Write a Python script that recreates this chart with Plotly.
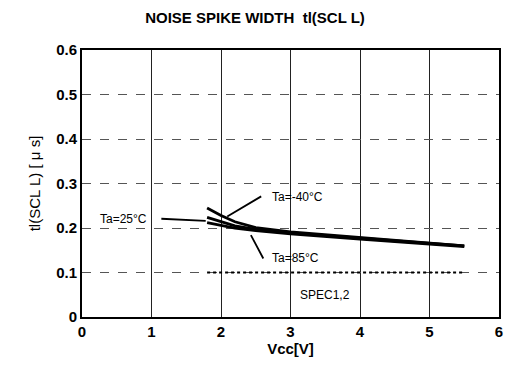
import plotly.graph_objects as go

# Supply voltage sweep [V]
vcc = [1.8, 2.0, 2.2, 2.5, 3.0, 4.0, 5.0, 5.5]

# Noise spike width tI(SCL L) [us] per ambient temperature
tl_m40 = [0.245, 0.228, 0.214, 0.201, 0.191, 0.178, 0.166, 0.160]
tl_25 = [0.224, 0.215, 0.205, 0.197, 0.189, 0.177, 0.165, 0.160]
tl_85 = [0.212, 0.206, 0.200, 0.194, 0.187, 0.175, 0.164, 0.158]

# Spec limit
spec_x = [1.8, 5.5]
spec_y = [0.1, 0.1]

x_ticks = [0, 1, 2, 3, 4, 5, 6]
y_ticks = [0, 0.1, 0.2, 0.3, 0.4, 0.5, 0.6]

FAM = "Liberation Sans, Arial"

fig = go.Figure()
for ys in (tl_m40, tl_25, tl_85):
    fig.add_trace(go.Scatter(x=vcc, y=ys, mode="lines",
                             line=dict(color="black", width=2.8),
                             showlegend=False, hoverinfo="skip"))
fig.add_trace(go.Scatter(x=spec_x, y=spec_y, mode="lines",
                         line=dict(color="black", width=1.8, dash="dot"),
                         showlegend=False, hoverinfo="skip"))

font = dict(family=FAM, size=12, color="black")
# (text, text x, text y, anchor, leader start x, y, leader end x, y)
labels = [
    ("Ta=-40\u00b0C", 2.70, 0.270, "left", 2.60, 0.273, 2.09, 0.226),
    ("Ta=25\u00b0C", 0.97, 0.221, "right", 1.12, 0.221, 1.78, 0.216),
    ("Ta=85\u00b0C", 2.70, 0.133, "left", 2.62, 0.128, 2.43, 0.184),
]
for txt, tx, ty, anc, sx, sy, ex, ey in labels:
    fig.add_annotation(x=tx, y=ty, text=txt, showarrow=False,
                       xanchor=anc, font=font)
    fig.add_annotation(x=ex, y=ey, ax=sx, ay=sy, axref="x", ayref="y",
                       text="", showarrow=True, arrowhead=0, arrowwidth=1.8,
                       arrowcolor="black")
fig.add_annotation(x=3.5, y=0.05, text="SPEC1,2", showarrow=False,
                   font=dict(family=FAM, size=12, color="black"))

fig.update_layout(
    width=510, height=371,
    margin=dict(l=82, r=7, t=50, b=54),
    paper_bgcolor="white", plot_bgcolor="white",
    title=dict(text="<b>NOISE SPIKE WIDTH  tl(SCL L)</b>", x=0.5, xanchor="center",
               y=0.952, yanchor="middle",
               font=dict(family=FAM, size=15, color="black")),
)
fig.update_xaxes(range=[0, 6], tickvals=x_ticks,
                 ticktext=[f"<b>{t}</b>" for t in x_ticks],
                 showgrid=True, gridcolor="#222", gridwidth=1,
                 showline=True, linecolor="black", linewidth=2, mirror=True,
                 ticks="", zeroline=False,
                 tickfont=dict(family=FAM, size=15, color="black"),
                 title=dict(text="<b>Vcc[V]</b>", standoff=4,
                            font=dict(family=FAM, size=15, color="black")))
fig.update_yaxes(range=[0, 0.6], tickvals=y_ticks,
                 ticktext=["<b>0</b>"] + [f"<b>{t:.1f}</b>" for t in y_ticks[1:]],
                 showgrid=True, gridcolor="#555", gridwidth=1, griddash="dash",
                 showline=True, linecolor="black", linewidth=2, mirror=True,
                 ticks="", zeroline=False,
                 tickfont=dict(family=FAM, size=15, color="black"),
                 title=dict(text="tl(SCL L) [ \u03bc s]", standoff=12,
                            font=dict(family=FAM, size=15, color="black")))

fig.write_html("out.html")
